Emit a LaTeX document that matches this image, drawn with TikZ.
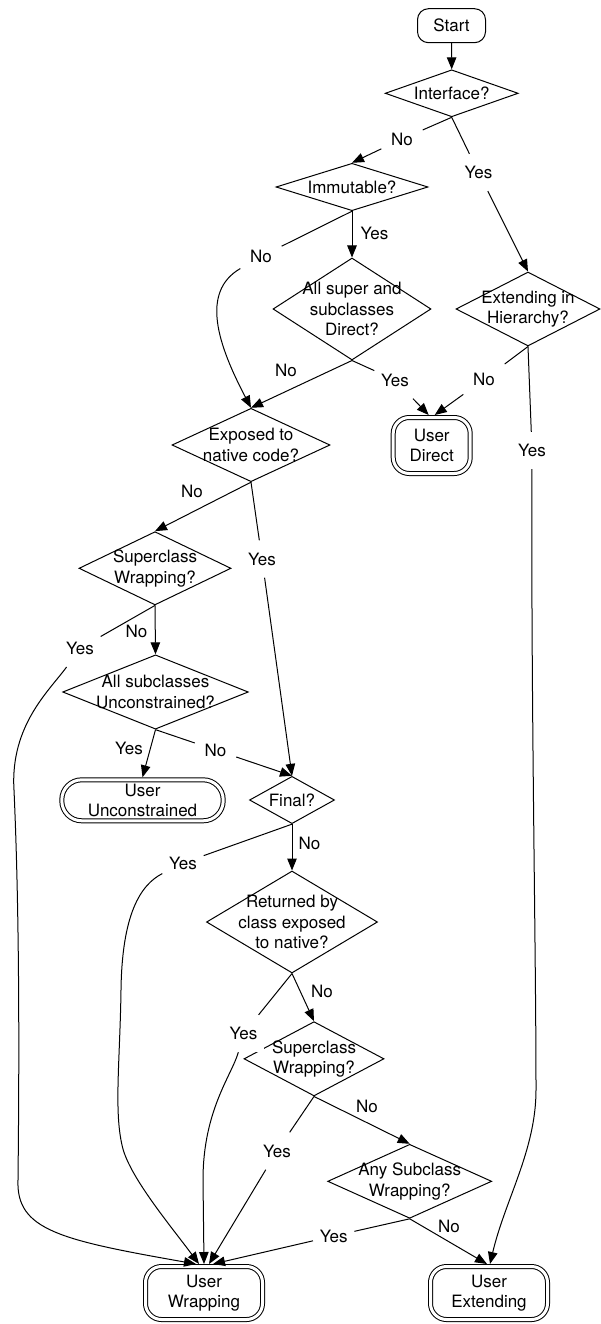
\documentclass[tikz,border=0pt]{standalone}
\usepackage{fontspec}
\setmainfont{TeX Gyre Heros}
\usetikzlibrary{shapes.geometric,arrows.meta}
\begin{document}
\begin{tikzpicture}[x=1pt,y=-1pt,
  every node/.style={font=\fontsize{17pt}{20.5pt}\selectfont},
  dia/.style={draw, shape=diamond, inner sep=0pt, line width=1pt},
  dtext/.style={align=center, inner sep=0pt},
  startbox/.style={draw, rectangle, rounded corners=11pt, line width=1pt, minimum width=68pt, minimum height=34pt, inner sep=0pt},
  term/.style={draw, rectangle, double, double distance=3pt, line width=1pt, outer sep=2.5pt, inner sep=0pt, align=center},
  elab/.style={rectangle, fill=white, inner sep=0pt, minimum width=41pt, minimum height=37pt},
  blab/.style={inner sep=0pt},
  edge/.style={line width=1pt},
  arr/.style={line width=1pt, -{Triangle[length=12pt,width=9.5pt]}},
]
\useasboundingbox (0,0) rectangle (600,1324);
\fill[white] (0,0) rectangle (600,1324);

% shapes
\node[startbox] (start) at (451.5,25.7) {Start};
\node[dia, minimum width=133pt, minimum height=47pt, label={[dtext]center:Interface?}] (int) at (451.7,93.3) {};
\node[dia, minimum width=152pt, minimum height=47.4pt, label={[dtext]center:Immutable?}] (imm) at (352,187) {};
\node[dia, minimum width=158pt, minimum height=102pt, label={[dtext]center:{All super and\\subclasses\\Direct?}}] (asd) at (352,309) {};
\node[dia, minimum width=144pt, minimum height=74pt, label={[dtext]center:{Extending in\\Hierarchy?}}] (ext) at (528,309) {};
\node[term, rounded corners=16pt, minimum width=77pt, minimum height=56pt] (ud) at (431.7,445.5) {User\\Direct};
\node[dia, minimum width=158pt, minimum height=73.4pt, label={[dtext]center:{Exposed to\\native code?}}] (exp) at (251,445) {};
\node[dia, minimum width=152pt, minimum height=73.3pt, label={[dtext]center:{Superclass\\Wrapping?}}] (sw1) at (155,568.3) {};
\node[dia, minimum width=185.6pt, minimum height=74.3pt, label={[dtext]center:{All subclasses\\Unconstrained?}}] (asu) at (155.5,692) {};
\node[term, rounded corners=20pt, minimum width=161.4pt, minimum height=41pt] (uu) at (142.5,800.3) {User\\Unconstrained};
\node[dia, minimum width=85pt, minimum height=47.3pt, label={[dtext]center:Final?}] (fin) at (292,800) {};
\node[dia, minimum width=171pt, minimum height=102pt, label={[dtext]center:{Returned by\\class exposed\\to native?}}] (ret) at (292,922) {};
\node[dia, minimum width=140pt, minimum height=74.3pt, label={[dtext]center:{Superclass\\Wrapping?}}] (sw2) at (314,1058.8) {};
\node[dia, minimum width=164pt, minimum height=74pt, label={[dtext]center:{Any Subclass\\Wrapping?}}] (any) at (409.7,1181.3) {};
\node[term, rounded corners=16pt, minimum width=117pt, minimum height=53pt] (uw) at (204,1293) {User\\Wrapping};
\node[term, rounded corners=16pt, minimum width=117pt, minimum height=53pt] (ue) at (489,1293) {User\\Extending};

% labels sitting on edges
\node[elab] (l1) at (402,139) {No};
\node[elab] (l2) at (478.5,172.5) {Yes};
\node[elab] (l3) at (261,256.5) {No};
\node[elab] (l4) at (395,380) {Yes};
\node[elab] (l5) at (484,379.5) {No};
\node[elab] (l6) at (532,450.5) {Yes};
\node[elab] (l7) at (262,559) {Yes};
\node[elab] (l8) at (80,648.3) {Yes};
\node[elab] (l9) at (215.5,750) {No};
\node[elab] (l10) at (183,863) {Yes};
\node[elab] (l11) at (243.5,1033.5) {Yes};
\node[elab] (l12) at (277,1151) {Yes};
\node[elab] (l13) at (333.7,1236) {Yes};

% labels beside edges
\node[blab] (b1) at (374.5,233) {Yes};
\node[blab] (b2) at (286,370) {No};
\node[blab] (b3) at (192,491.5) {No};
\node[blab] (b4) at (136.5,631.5) {No};
\node[blab] (b5) at (129,748.5) {Yes};
\node[blab] (b6) at (309.5,843) {No};
\node[blab] (b7) at (322,991.5) {No};
\node[blab] (b8) at (367,1106.5) {No};
\node[blab] (b9) at (449,1226) {No};

% connectors
\draw[arr] (start.south) -- (int.north);
\draw[edge] (int.south) -- (l1);
\draw[arr] (l1) -- (imm.north);
\draw[edge] (int.south) -- (l2);
\draw[arr] (l2) -- (ext.north);
\draw[arr] (imm.south) -- (asd.north);
\draw[edge] (imm.south) -- (l3);
\draw[arr] (l3) .. controls (200,292) and (218,345) .. (exp.north);
\draw[arr] (asd.south) -- (exp.north);
\draw[edge] (asd.south) -- (l4);
\draw[arr] (l4) -- ([xshift=-3pt]ud.north);
\draw[edge] (ext.south) -- (l5);
\draw[arr] (l5) -- ([xshift=3pt]ud.north);
\draw[edge] (ext.south) -- (l6);
\draw[arr] (l6) .. controls (531,700) and (536,950) .. (536,1090) .. controls (536,1150) and (505,1200) .. ([xshift=1pt]ue.north);
\draw[arr] (exp.south) -- (sw1.north);
\draw[edge] (exp.south) -- (l7);
\draw[arr] (l7) -- (fin.north);
\draw[arr] (sw1.south) -- (asu.north);
\draw[edge] (sw1.south) -- (l8);
\draw[arr] (l8) .. controls (50,690) and (10,725) .. (14,790) .. controls (18,880) and (20,1000) .. (18,1180) .. controls (16,1230) and (60,1240) .. ([xshift=-8pt]uw.north);
\draw[arr] (asu.south) -- (uu.north);
\draw[edge] (asu.south) -- (l9);
\draw[arr] (l9) -- (fin.north);
\draw[arr] (fin.south) -- (ret.north);
\draw[edge] (fin.south) -- (l10);
\draw[arr] (l10) .. controls (140,885) and (122,915) .. (121,990) .. controls (120,1060) and (114,1110) .. (122,1145) .. controls (128,1175) and (170,1225) .. ([xshift=-5pt]uw.north);
\draw[arr] (ret.south) -- (sw2.north);
\draw[edge] (ret.south) -- (l11);
\draw[arr] (l11) .. controls (232,1075) and (203,1110) .. (203,1180) -- (uw.north);
\draw[arr] (sw2.south) -- (any.north);
\draw[edge] (sw2.south) -- (l12);
\draw[arr] (l12) -- ([xshift=5pt]uw.north);
\draw[edge] (any.south) -- (l13);
\draw[arr] (l13) -- ([xshift=9pt]uw.north);
\draw[arr] (any.south) -- ([xshift=-2pt]ue.north);
\end{tikzpicture}
\end{document}
